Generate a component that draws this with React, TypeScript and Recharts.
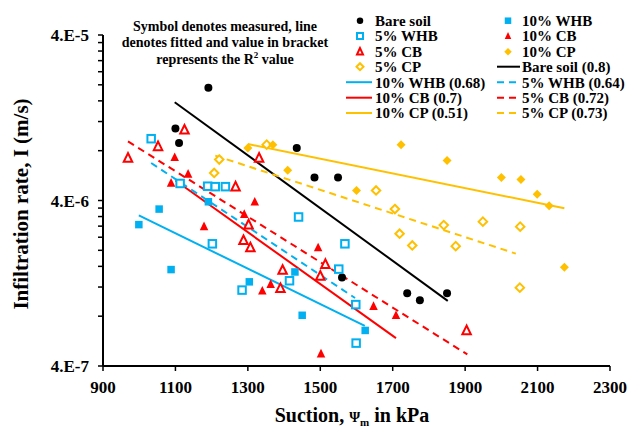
import React from "react";
import { ScatterChart, Scatter, XAxis, YAxis } from "recharts";

type Pt = { x: number; y: number };

// measured points (suction kPa, infiltration rate m/s)
const bareSoil: Pt[] = [
  { x: 1100, y: 1.09e-5 }, { x: 1110, y: 8.9e-6 }, { x: 1191, y: 1.92e-5 },
  { x: 1435, y: 8.3e-6 }, { x: 1484, y: 5.5e-6 }, { x: 1549, y: 5.5e-6 },
  { x: 1560, y: 1.37e-6 }, { x: 1740, y: 1.1e-6 }, { x: 1775, y: 1.0e-6 },
  { x: 1850, y: 1.1e-6 },
];
const whb5: Pt[] = [
  { x: 1033, y: 9.45e-6 }, { x: 1113, y: 5.07e-6 }, { x: 1189, y: 4.88e-6 },
  { x: 1210, y: 4.85e-6 }, { x: 1238, y: 4.85e-6 }, { x: 1440, y: 3.18e-6 },
  { x: 1202, y: 2.19e-6 }, { x: 1284, y: 1.15e-6 }, { x: 1415, y: 1.31e-6 },
  { x: 1568, y: 2.19e-6 }, { x: 1551, y: 1.54e-6 }, { x: 1598, y: 9.4e-7 },
  { x: 1599, y: 5.5e-7 },
];
const whb10: Pt[] = [
  { x: 999, y: 2.86e-6 }, { x: 1055, y: 3.55e-6 }, { x: 1088, y: 1.53e-6 },
  { x: 1191, y: 3.93e-6 }, { x: 1304, y: 1.29e-6 }, { x: 1430, y: 1.48e-6 },
  { x: 1450, y: 8.1e-7 }, { x: 1624, y: 6.56e-7 },
];
const cb5: Pt[] = [
  { x: 969, y: 7.23e-6 }, { x: 1052, y: 8.5e-6 }, { x: 1125, y: 1.07e-5 },
  { x: 1266, y: 4.85e-6 }, { x: 1288, y: 2.3e-6 }, { x: 1302, y: 2.86e-6 },
  { x: 1307, y: 2.08e-6 }, { x: 1331, y: 7.23e-6 }, { x: 1390, y: 1.18e-6 },
  { x: 1396, y: 1.52e-6 }, { x: 1500, y: 1.4e-6 }, { x: 1514, y: 1.65e-6 },
  { x: 1904, y: 6.56e-7 },
];
const cb10: Pt[] = [
  { x: 1088, y: 5.11e-6 }, { x: 1098, y: 7.3e-6 }, { x: 1135, y: 5.79e-6 },
  { x: 1179, y: 2.79e-6 }, { x: 1290, y: 3.31e-6 }, { x: 1319, y: 3.93e-6 },
  { x: 1340, y: 1.14e-6 }, { x: 1363, y: 1.25e-6 }, { x: 1494, y: 2.08e-6 },
  { x: 1502, y: 4.75e-7 }, { x: 1647, y: 9.2e-7 }, { x: 1709, y: 8.1e-7 },
];
const cp5: Pt[] = [
  { x: 1207, y: 5.87e-6 }, { x: 1221, y: 7.07e-6 }, { x: 1352, y: 8.7e-6 },
  { x: 1654, y: 4.6e-6 }, { x: 1706, y: 3.55e-6 }, { x: 1719, y: 2.52e-6 },
  { x: 1754, y: 2.14e-6 }, { x: 1841, y: 2.84e-6 }, { x: 1874, y: 2.12e-6 },
  { x: 1949, y: 2.98e-6 }, { x: 2052, y: 2.78e-6 }, { x: 2051, y: 1.19e-6 },
];
const cp10: Pt[] = [
  { x: 1300, y: 8.3e-6 }, { x: 1369, y: 8.7e-6 }, { x: 1410, y: 6.09e-6 },
  { x: 1600, y: 4.6e-6 }, { x: 1723, y: 8.7e-6 }, { x: 1850, y: 6.97e-6 },
  { x: 2000, y: 5.5e-6 }, { x: 2054, y: 5.36e-6 }, { x: 2099, y: 4.37e-6 },
  { x: 2132, y: 3.72e-6 }, { x: 2174, y: 1.58e-6 },
];

// fitted lines (end points)
const fitBare: Pt[] = [{ x: 1098, y: 1.57e-5 }, { x: 1852, y: 9.9e-7 }];
const fitWhb10: Pt[] = [{ x: 999, y: 3.25e-6 }, { x: 1623, y: 7.0e-7 }];
const fitWhb5: Pt[] = [{ x: 1033, y: 6.74e-6 }, { x: 1596, y: 1.03e-6 }];
const fitCb10: Pt[] = [{ x: 1100, y: 5.28e-6 }, { x: 1709, y: 5.9e-7 }];
const fitCb5: Pt[] = [{ x: 969, y: 9.1e-6 }, { x: 1906, y: 4.7e-7 }];
const fitCp10: Pt[] = [{ x: 1300, y: 8.77e-6 }, { x: 2174, y: 3.59e-6 }];
const fitCp5: Pt[] = [{ x: 1210, y: 7.47e-6 }, { x: 2040, y: 1.91e-6 }];

const xTicks = [900, 1100, 1300, 1500, 1700, 1900, 2100, 2300];
const yMajor = [4e-7, 4e-6, 4e-5];
const yMajorLabels = ["4.E-7", "4.E-6", "4.E-5"];
const yTicks = [
  4e-7, 8e-7, 1.2e-6, 1.6e-6, 2e-6, 2.4e-6, 2.8e-6, 3.2e-6, 3.6e-6,
  4e-6, 8e-6, 1.2e-5, 1.6e-5, 2e-5, 2.4e-5, 2.8e-5, 3.2e-5, 3.6e-5, 4e-5,
];

const BLUE = "#00B0F0";
const RED = "#FF0000";
const GOLD = "#FFC000";
const BLACK = "#000000";
const FONT = "'Liberation Serif', 'Times New Roman', serif";

// marker drawing
const mark = (kind: string, color: string, cx: number, cy: number, s: number) => {
  const open = kind.startsWith("open");
  const fill = open ? "#fff" : color;
  const stroke = open ? color : "none";
  const sw = open ? 2 : 0;
  if (kind === "circle") return <circle cx={cx} cy={cy} r={s / 2} fill={color} />;
  if (kind.endsWith("square"))
    return <rect x={cx - s / 2} y={cy - s / 2} width={s} height={s} fill={fill} stroke={stroke} strokeWidth={sw} />;
  if (kind.endsWith("tri")) {
    const h = s * 0.9;
    return (
      <polygon
        points={`${cx},${cy - h / 2 - 1} ${cx - s / 2},${cy + h / 2} ${cx + s / 2},${cy + h / 2}`}
        fill={fill} stroke={stroke} strokeWidth={sw} strokeLinejoin="miter"
      />
    );
  }
  const r = s / 2 + 0.5;
  return (
    <polygon
      points={`${cx},${cy - r} ${cx + r},${cy} ${cx},${cy + r} ${cx - r},${cy}`}
      fill={fill} stroke={stroke} strokeWidth={sw}
    />
  );
};

const shape = (kind: string, color: string, s: number) => (p: any) => (
  <g>{mark(kind, color, p.cx, p.cy, s)}</g>
);
const noShape = () => <g />;

const XTick = (props: any) => {
  const { x, payload } = props;
  return (
    <text x={x} y={393} textAnchor="middle" fontFamily={FONT} fontWeight="bold" fontSize={17} fill="#000">
      {payload.value}
    </text>
  );
};

const YTick = (props: any) => {
  const { y, payload } = props;
  const i = yMajor.findIndex((m) => Math.abs(payload.value / m - 1) < 1e-6);
  if (i < 0) return <g />;
  return (
    <text x={89} y={y + 6} textAnchor="end" fontFamily={FONT} fontWeight="bold" fontSize={17} fill="#000">
      {yMajorLabels[i]}
    </text>
  );
};

const legendItems = [
  { label: "Bare soil", kind: "circle", color: BLACK, col: 0, row: 0 },
  { label: "5% WHB", kind: "opensquare", color: BLUE, col: 0, row: 1 },
  { label: "5% CB", kind: "opentri", color: RED, col: 0, row: 2 },
  { label: "5% CP", kind: "opendiamond", color: GOLD, col: 0, row: 3 },
  { label: "10% WHB (0.68)", kind: "line", color: BLUE, col: 0, row: 4 },
  { label: "10% CB (0.7)", kind: "line", color: RED, col: 0, row: 5 },
  { label: "10% CP (0.51)", kind: "line", color: GOLD, col: 0, row: 6 },
  { label: "10% WHB", kind: "square", color: BLUE, col: 1, row: 0 },
  { label: "10% CB", kind: "tri", color: RED, col: 1, row: 1 },
  { label: "10% CP", kind: "diamond", color: GOLD, col: 1, row: 2 },
  { label: "Bare soil (0.8)", kind: "line", color: BLACK, col: 1, row: 3 },
  { label: "5% WHB (0.64)", kind: "dash", color: BLUE, col: 1, row: 4 },
  { label: "5% CB (0.72)", kind: "dash", color: RED, col: 1, row: 5 },
  { label: "5% CP (0.73)", kind: "dash", color: GOLD, col: 1, row: 6 },
];
const legendRowY = [20.7, 36, 51.7, 66.7, 82.2, 97.7, 113];

const Overlay = () => {
  const colX = [375, 522];
  const symX = [360, 508];
  const lineX = [[346, 372], [497, 520]];
  return (
    <svg width={630} height={428} style={{ position: "absolute", left: 0, top: 0, pointerEvents: "none" }}>
      <g fontFamily={FONT} fontWeight="bold" fill="#000">
        <text x={225} y={30.5} fontSize={14} textAnchor="middle">Symbol denotes measured, line</text>
        <text x={225} y={47} fontSize={14} textAnchor="middle">denotes fitted and value in bracket</text>
        <text x={225} y={63.5} fontSize={14} textAnchor="middle">
          represents the R<tspan fontSize={9} dy={-6}>2</tspan><tspan dy={6}> value</tspan>
        </text>
        <text x={352} y={422} fontSize={20} textAnchor="middle">
          Suction, <tspan fontSize={14}>Ψ</tspan><tspan fontSize={11} dy={4}>m</tspan>
          <tspan dy={-4}> in kPa</tspan>
        </text>
        <text x={28} y={204} fontSize={21} textAnchor="middle" transform="rotate(-90 28 204)">
          Infiltration rate, I (m/s)
        </text>
        {legendItems.map((it) => {
          const cy = legendRowY[it.row];
          let sym: React.ReactNode;
          if (it.kind === "line" || it.kind === "dash") {
            const [a, b] = lineX[it.col];
            sym = (
              <line x1={a} x2={b} y1={cy} y2={cy} stroke={it.color} strokeWidth={2}
                strokeDasharray={it.kind === "dash" ? "7 5" : undefined} />
            );
          } else {
            sym = mark(it.kind, it.color, symX[it.col], cy, it.kind.startsWith("open") ? 6 : 6.5);
          }
          return (
            <g key={it.label}>
              {sym}
              <text x={colX[it.col]} y={cy + 5.3} fontSize={15}>{it.label}</text>
            </g>
          );
        })}
      </g>
    </svg>
  );
};

const series = [
  { data: bareSoil, kind: "circle", color: BLACK, s: 8 },
  { data: whb5, kind: "opensquare", color: BLUE, s: 7.5 },
  { data: cb5, kind: "opentri", color: RED, s: 8.5 },
  { data: cp5, kind: "opendiamond", color: GOLD, s: 7.5 },
  { data: whb10, kind: "square", color: BLUE, s: 7.5 },
  { data: cb10, kind: "tri", color: RED, s: 8.5 },
  { data: cp10, kind: "diamond", color: GOLD, s: 8 },
];

const fits = [
  { data: fitBare, color: BLACK, dash: undefined },
  { data: fitWhb10, color: BLUE, dash: undefined },
  { data: fitCb10, color: RED, dash: undefined },
  { data: fitCp10, color: GOLD, dash: undefined },
  { data: fitWhb5, color: BLUE, dash: "7 5" },
  { data: fitCb5, color: RED, dash: "7 5" },
  { data: fitCp5, color: GOLD, dash: "7 5" },
];

export default function App() {
  return (
    <div style={{ position: "absolute", left: 0, top: 0, width: 630, height: 428, background: "#fff" }}>
      <ScatterChart width={630} height={428} margin={{ top: 35, right: 20, bottom: 0, left: 0 }}>
        <XAxis
          type="number"
          dataKey="x"
          domain={[900, 2300]}
          ticks={xTicks}
          height={62}
          tickSize={5}
          tick={<XTick />}
          axisLine={{ stroke: "#000", strokeWidth: 2 }}
          tickLine={{ stroke: "#000", strokeWidth: 1.5 }}
        />
        <YAxis
          type="number"
          dataKey="y"
          scale="log"
          domain={[4e-7, 4e-5]}
          allowDataOverflow
          ticks={yTicks}
          interval={0}
          width={103}
          tickSize={5}
          tick={<YTick />}
          axisLine={{ stroke: "#000", strokeWidth: 2 }}
          tickLine={{ stroke: "#000", strokeWidth: 1.5 }}
        />
        {fits.map((f, i) => (
          <Scatter
            key={"fit" + i}
            data={f.data}
            line={{ stroke: f.color, strokeWidth: 2, strokeDasharray: f.dash }}
            shape={noShape}
            isAnimationActive={false}
          />
        ))}
        {series.map((s, i) => (
          <Scatter
            key={"s" + i}
            data={s.data}
            shape={shape(s.kind, s.color, s.s)}
            isAnimationActive={false}
          />
        ))}
      </ScatterChart>
      <Overlay />
    </div>
  );
}
